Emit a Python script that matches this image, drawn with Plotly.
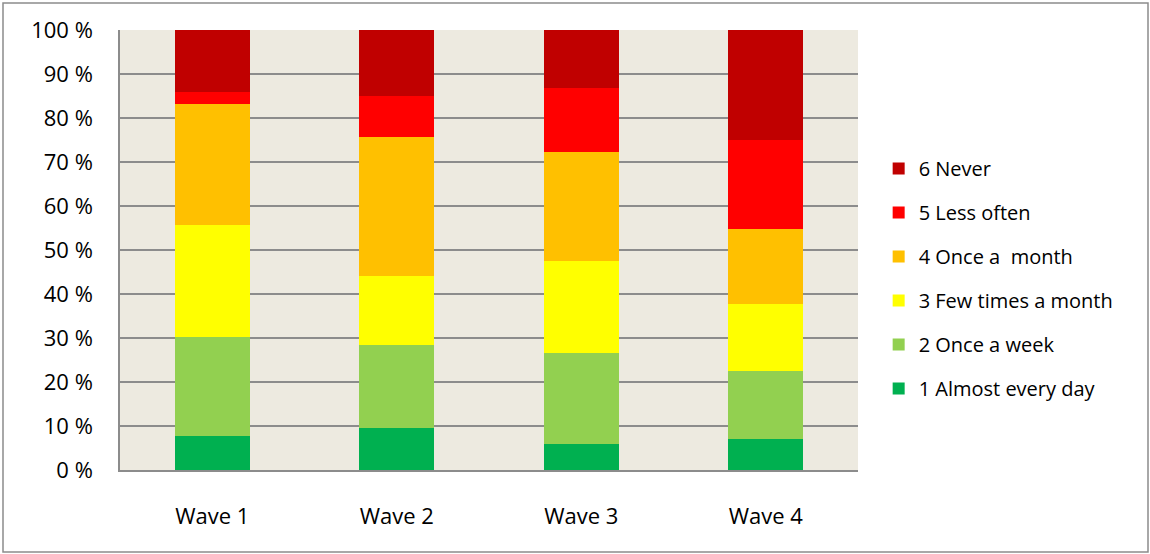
import plotly.graph_objects as go

waves = ["Wave 1", "Wave 2", "Wave 3", "Wave 4"]
series_names = ["1 Almost every day", "2 Once a week", "3 Few times a month",
                "4 Once a  month", "5 Less often", "6 Never"]
almost_every_day = [7.8, 9.5, 6.0, 7.1]
once_a_week = [22.5, 18.9, 20.5, 15.5]
few_times_a_month = [25.3, 15.6, 21.0, 15.2]
once_a_month = [27.5, 31.7, 24.8, 16.9]
less_often = [2.7, 9.4, 14.6, 20.2]
never = [14.2, 14.9, 13.1, 25.1]
tick_vals = [0, 10, 20, 30, 40, 50, 60, 70, 80, 90, 100]
tick_text = [f"{v} %" for v in tick_vals]

series_values = [almost_every_day, once_a_week, few_times_a_month,
                 once_a_month, less_often, never]
colors = ["#00B050", "#92D050", "#FFFF00", "#FFC000", "#FF0000", "#C00000"]

W, H = 1150, 554
ml, mr, mt, mb = 120, 292, 30, 84
pw = W - ml - mr
ph = H - mt - mb

fig = go.Figure()
n = len(series_names)
for i, (name, vals, col) in enumerate(zip(series_names, series_values, colors)):
    fig.add_trace(go.Bar(
        x=waves, y=vals, name=name, marker=dict(color=col, line=dict(width=0)),
        legendgroup=name, legendrank=n - i,
    ))

font = "'Open Sans', sans-serif"
fig.update_layout(
    width=W, height=H,
    margin=dict(l=ml, r=mr, t=mt, b=mb),
    barmode="stack",
    bargap=0.594,
    plot_bgcolor="#EDEAE0",
    paper_bgcolor="white",
    font=dict(family=font, size=22, color="black"),
    showlegend=True,
    legend=dict(
        x=1.028, y=0.435, xanchor="left", yanchor="middle",
        traceorder="grouped", tracegroupgap=15,
        font=dict(family=font, size=20, color="black"),
        bgcolor="rgba(0,0,0,0)",
    ),
    xaxis=dict(
        showgrid=False, showline=True, linecolor="#8C8C8C", linewidth=1.5,
        ticks="", ticklabelstandoff=26, tickfont=dict(size=22),
    ),
    yaxis=dict(
        range=[0, 100], tickvals=tick_vals, ticktext=tick_text,
        showgrid=True, gridcolor="#8C8C8C", gridwidth=1.5,
        showline=True, linecolor="#8C8C8C", linewidth=1.5,
        ticks="", ticklabelstandoff=21, tickfont=dict(size=22),
        zeroline=False,
    ),
    shapes=[dict(
        type="rect", xref="paper", yref="paper",
        x0=(3 - ml) / pw, x1=(1148 - ml) / pw,
        y0=(H - mb - 552) / ph, y1=(H - mb - 3) / ph,
        line=dict(color="#8C8C8C", width=1.5), fillcolor="rgba(0,0,0,0)",
        layer="below",
    )],
)

fig.write_html("out.html", config={"displayModeBar": False},
               post_script="document.body.style.margin='0';")
